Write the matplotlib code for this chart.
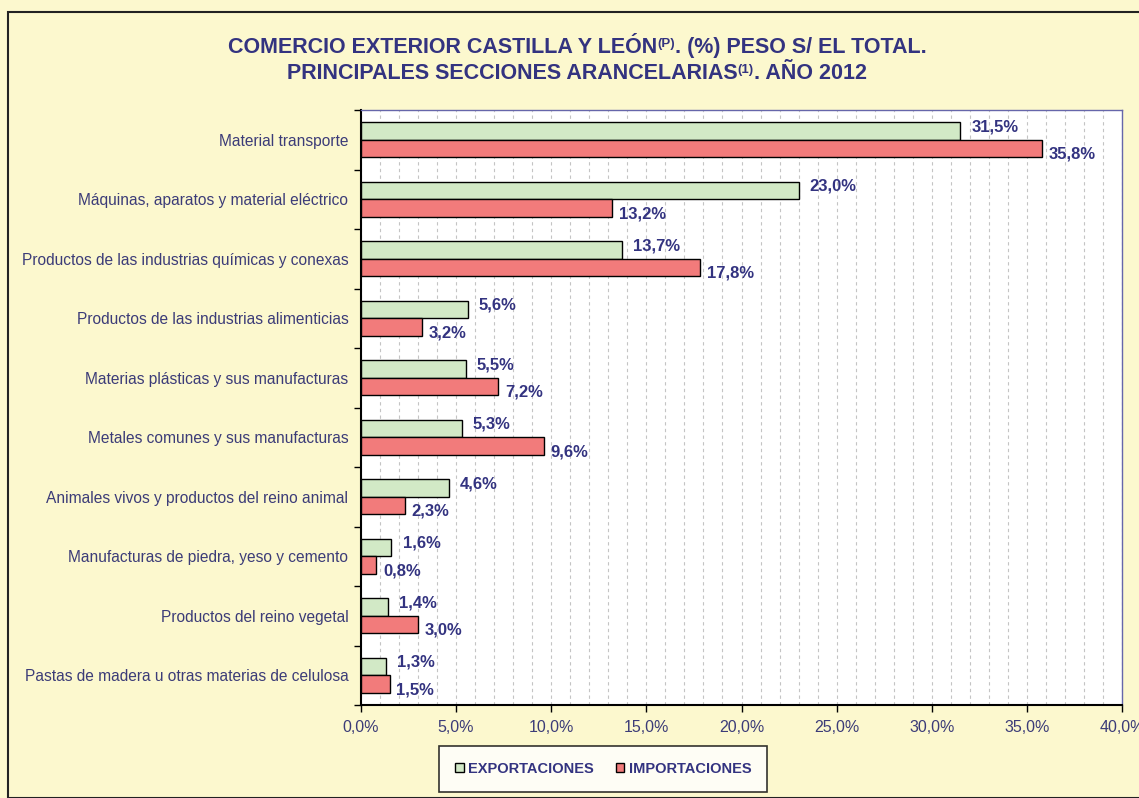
import matplotlib
matplotlib.use("Agg")
import matplotlib.pyplot as plt
import numpy as np
from matplotlib.patches import Rectangle
from matplotlib.ticker import MultipleLocator, FuncFormatter

plt.rcParams['font.family'] = ['Liberation Sans', 'DejaVu Sans']

categories = [
    "Material transporte",
    "Máquinas, aparatos y material eléctrico",
    "Productos de las industrias químicas y conexas",
    "Productos de las industrias alimenticias",
    "Materias plásticas y sus manufacturas",
    "Metales comunes y sus manufacturas",
    "Animales vivos y productos del reino animal",
    "Manufacturas de piedra, yeso y cemento",
    "Productos del reino vegetal",
    "Pastas de madera u otras materias de celulosa",
]
exportaciones = [31.5, 23.0, 13.7, 5.6, 5.5, 5.3, 4.6, 1.6, 1.4, 1.3]
importaciones = [35.8, 13.2, 17.8, 3.2, 7.2, 9.6, 2.3, 0.8, 3.0, 1.5]
series_names = ["EXPORTACIONES", "IMPORTACIONES"]

BG = "#FCF8CE"
NAVY = "#333380"
LABEL = "#3C3C78"
GREEN = "#D2E9C6"
RED = "#F27B7B"

fig = plt.figure(figsize=(11.39, 7.98), dpi=100, facecolor=BG)
fig.patches.append(Rectangle((8/1139, 0), 1 - 8/1139 + 0.01, 1 - 12/798, transform=fig.transFigure,
                             fill=False, edgecolor="#222222", linewidth=1.5, zorder=0))

ax = fig.add_axes([361/1139, 1 - 705/798, (1122 - 361)/1139, (705 - 110)/798])
ax.set_facecolor("white")

n = len(categories)
y = np.arange(n)
h = 0.295
ax.barh(y - h/2, exportaciones, height=h, color=GREEN, edgecolor="black", linewidth=1.0, zorder=3,
        label=series_names[0])
ax.barh(y + h/2, importaciones, height=h, color=RED, edgecolor="black", linewidth=1.0, zorder=3,
        label=series_names[1])

fmt = lambda v: f"{v:.1f}%".replace(".", ",")
for i in range(n):
    ax.annotate(fmt(exportaciones[i]), (exportaciones[i], y[i] - h/2), xytext=(8, 3),
                textcoords="offset points", ha="left", va="center", fontsize=12,
                fontweight="bold", color=NAVY, zorder=4)
    ax.annotate(fmt(importaciones[i]), (importaciones[i], y[i] + h/2), xytext=(5, -4),
                textcoords="offset points", ha="left", va="center", fontsize=12,
                fontweight="bold", color=NAVY, zorder=4)

ax.set_xlim(0, 40)
ax.set_ylim(n - 0.5, -0.5)
ax.xaxis.set_major_locator(MultipleLocator(5))
ax.xaxis.set_minor_locator(MultipleLocator(1))
ax.xaxis.set_major_formatter(FuncFormatter(lambda v, p: f"{v:.1f}%".replace(".", ",")))
ax.grid(axis="x", which="both", color="#C4C4C4", linestyle=(0, (3, 3)), linewidth=0.8, zorder=0)
ax.set_axisbelow(True)

ax.set_yticks(y)
ax.set_yticklabels(categories)
ax.set_yticks(np.arange(n + 1) - 0.5, minor=True)
ax.tick_params(axis="y", which="major", length=0, pad=9, labelsize=11.2, labelcolor=LABEL)
ax.tick_params(axis="y", which="minor", length=5, width=1, color="black")
ax.tick_params(axis="x", which="major", length=5, width=1, color="black", labelsize=11.5,
               labelcolor=LABEL, pad=6)
ax.tick_params(axis="x", which="minor", length=0)

for s in ["left", "bottom"]:
    ax.spines[s].set_color("black")
    ax.spines[s].set_linewidth(1.5)
for s in ["top", "right"]:
    ax.spines[s].set_color("#6666AA")
    ax.spines[s].set_linewidth(1.0)

leg = fig.legend(loc="center", bbox_to_anchor=(603/1139, 1 - 769/798), ncol=2, frameon=True,
                 fancybox=False, edgecolor="black", facecolor="white",
                 handlelength=0.6, handleheight=0.6, handletextpad=0.3, columnspacing=1.5,
                 borderpad=1.1, prop={"weight": "bold", "size": 10.5})
leg.get_frame().set_linewidth(1.2)
for t in leg.get_texts():
    t.set_color(NAVY)

# Title with superscripts
def chain(parts, y_fig, center_x):
    fig.canvas.draw()
    r = fig.canvas.get_renderer()
    texts = []
    for s, size, dy in parts:
        t = fig.text(0, y_fig + dy, s, fontsize=size, fontweight="bold", color=NAVY, va="baseline",
                     ha="left")
        texts.append(t)
    widths = [t.get_window_extent(renderer=r).width / fig.bbox.width for t in texts]
    x = center_x - sum(widths) / 2
    for t, w in zip(texts, widths):
        t.set_x(x)
        x += w

chain([("COMERCIO EXTERIOR CASTILLA Y LEÓN", 15.5, 0), ("(P)", 9.5, 0.007),
       (". (%) PESO S/ EL TOTAL.", 15.5, 0)], 1 - 53/798, 577/1139)
chain([("PRINCIPALES SECCIONES ARANCELARIAS", 15.5, 0), ("(1)", 9.5, 0.007),
       (". AÑO 2012", 15.5, 0)], 1 - 79/798, 577/1139)

fig.savefig("out.png", dpi=100, facecolor=BG)
